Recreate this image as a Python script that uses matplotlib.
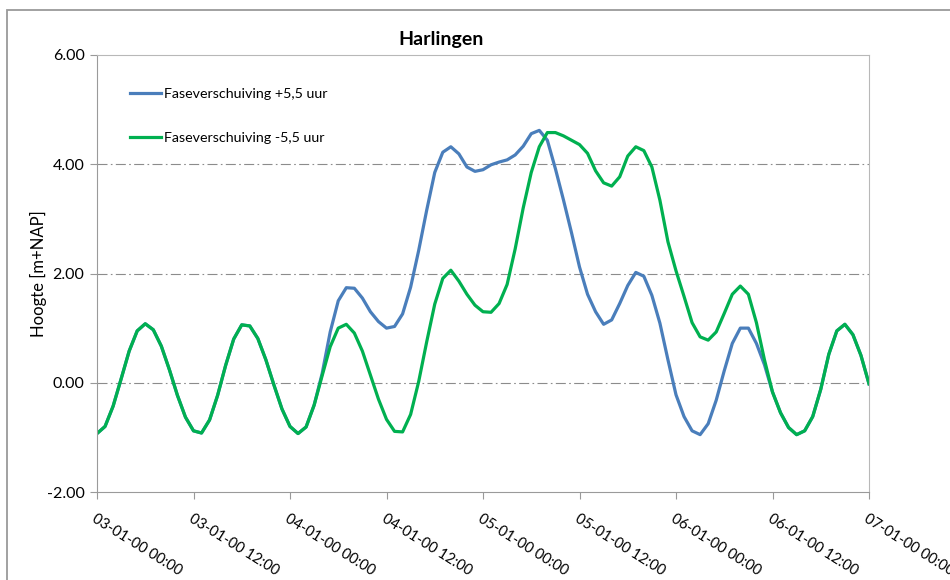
import numpy as np
import pandas as pd
import matplotlib
matplotlib.use("Agg")
import matplotlib.pyplot as plt
import matplotlib.dates as mdates
from matplotlib.patches import Rectangle

plt.rcParams['font.family'] = ['Lato', 'DejaVu Sans']

# tijdas: uurwaarden van 03-01-2000 00:00 t/m 07-01-2000 00:00
tijd = pd.date_range("2000-01-03 00:00", "2000-01-07 00:00", freq="h")

fase_plus = [-0.93, -0.80, -0.43, 0.07, 0.58, 0.95, 1.08, 0.97, 0.67, 0.24,
             -0.23, -0.63, -0.88, -0.92, -0.68, -0.23, 0.32, 0.80, 1.06, 1.04,
             0.81, 0.42, -0.04, -0.48, -0.80, -0.93, -0.81, -0.41, 0.17, 0.93,
             1.50, 1.74, 1.73, 1.55, 1.30, 1.12, 1.00, 1.03, 1.26, 1.75,
             2.42, 3.16, 3.85, 4.22, 4.32, 4.19, 3.95, 3.87, 3.90, 3.99,
             4.04, 4.08, 4.17, 4.33, 4.56, 4.62, 4.44, 3.92, 3.35, 2.75,
             2.12, 1.62, 1.30, 1.07, 1.15, 1.45, 1.78, 2.02, 1.95, 1.60,
             1.09, 0.42, -0.22, -0.62, -0.88, -0.95, -0.75, -0.32, 0.22, 0.72,
             1.00, 1.00, 0.72, 0.33, -0.17, -0.55, -0.82, -0.95, -0.88, -0.62,
             -0.12, 0.52, 0.95, 1.07, 0.88, 0.50, -0.02]

fase_min = [-0.93, -0.80, -0.43, 0.07, 0.58, 0.95, 1.08, 0.97, 0.67, 0.24,
            -0.23, -0.63, -0.88, -0.92, -0.68, -0.23, 0.32, 0.80, 1.06, 1.04,
            0.81, 0.42, -0.04, -0.48, -0.80, -0.93, -0.81, -0.41, 0.13, 0.66,
            1.00, 1.07, 0.91, 0.58, 0.14, -0.30, -0.67, -0.89, -0.90, -0.58,
            0.02, 0.75, 1.44, 1.91, 2.06, 1.86, 1.62, 1.42, 1.30, 1.29,
            1.45, 1.80, 2.45, 3.20, 3.85, 4.32, 4.58, 4.58, 4.52, 4.44,
            4.36, 4.20, 3.88, 3.66, 3.60, 3.77, 4.15, 4.32, 4.25, 3.95,
            3.34, 2.58, 2.05, 1.58, 1.10, 0.84, 0.78, 0.93, 1.27, 1.62,
            1.77, 1.62, 1.10, 0.42, -0.17, -0.55, -0.82, -0.95, -0.88, -0.62,
            -0.12, 0.52, 0.95, 1.07, 0.88, 0.50, -0.02]

yticks = [-2, 0, 2, 4, 6]

fig = plt.figure(figsize=(9.5, 5.8), dpi=100)
ax = fig.add_axes([97/950, 1 - 492/580, (869 - 97)/950, (492 - 55)/580])

# rand om het grafiekgebied
fig.patches.append(Rectangle((7/950, -0.1), 1.2, 0.1 + (1 - 10/580), transform=fig.transFigure,
                             fill=False, edgecolor="#9a9a9a", linewidth=1.3))

ax.plot(tijd, fase_plus, color="#4A7EBB", linewidth=2.3, solid_joinstyle="round",
        label="Faseverschuiving +5,5 uur")
ax.plot(tijd, fase_min, color="#00B050", linewidth=2.3, solid_joinstyle="round",
        label="Faseverschuiving -5,5 uur")

ax.set_ylim(-2, 6)
ax.set_xlim(tijd[0], tijd[-1])
ax.set_yticks(yticks)
ax.set_yticklabels(["%.2f" % v for v in yticks])
ax.xaxis.set_major_locator(mdates.HourLocator(byhour=[0, 12]))
ax.xaxis.set_major_formatter(mdates.DateFormatter("%d-%m-%y %H:%M"))

for lab in ax.get_xticklabels():
    lab.set_rotation(-32)
    lab.set_rotation_mode("anchor")
    lab.set_ha("left")
    lab.set_va("top")

ax.tick_params(axis="x", labelsize=10.5, length=5, color="#999999", pad=9)
ax.tick_params(axis="y", labelsize=11.5, length=5, color="#999999", pad=4)

for y in [0, 2, 4]:
    ax.axhline(y, color="#8c8c8c", linewidth=0.8, linestyle=(0, (9, 3, 1.5, 3)), zorder=0)

for s in ["left", "bottom"]:
    ax.spines[s].set_color("#9a9a9a")
for s in ["top", "right"]:
    ax.spines[s].set_color("#b8b8b8")

ax.set_ylabel("Hoogte [m+NAP]", fontsize=12, labelpad=0)
fig.text(441/950, 1 - 40/580, "Harlingen", ha="center", va="center", fontsize=14, fontweight="bold")

ax.legend(loc="upper left", bbox_to_anchor=(0.026, 0.953), frameon=False, fontsize=10.3,
          handlelength=2.2, handletextpad=0.2, labelspacing=2.2)

fig.savefig("out.png", dpi=100)
